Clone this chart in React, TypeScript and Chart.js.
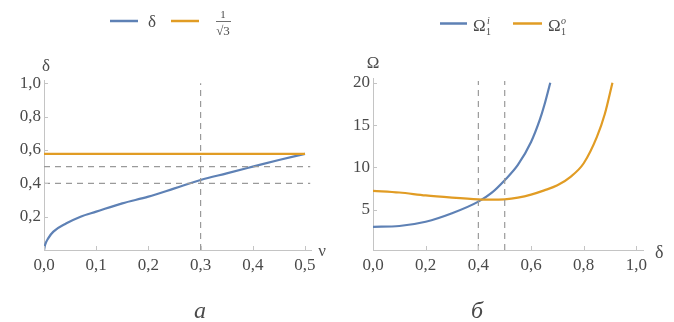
import React, { useEffect, useRef } from "react";
import { Chart, registerables } from "chart.js";
Chart.register(...registerables);

// ---------- Panel а: δ(ν) ----------
const nuValues = [0, 0.002, 0.008, 0.018, 0.043, 0.07, 0.1, 0.15, 0.2, 0.25, 0.3, 0.35, 0.4, 0.45, 0.5];
const deltaValues = [0, 0.03, 0.07, 0.11, 0.16, 0.2, 0.23, 0.28, 0.32, 0.37, 0.42, 0.46, 0.5, 0.54, 0.577];
const invSqrt3Nu = [0, 0.5];
const invSqrt3Values = [0.57735, 0.57735];
const leftDashH = [0.4, 0.5];
const leftDashV = [0.3];
const leftXTicks = [0, 0.1, 0.2, 0.3, 0.4, 0.5];
const leftXTickLabels = ["0,0", "0,1", "0,2", "0,3", "0,4", "0,5"];
const leftYTicks = [0.2, 0.4, 0.6, 0.8, 1.0];
const leftYTickLabels = ["0,2", "0,4", "0,6", "0,8", "1,0"];

// ---------- Panel б: Ω(δ) ----------
const deltaInner = [0, 0.1, 0.2, 0.3, 0.4, 0.45, 0.5, 0.55, 0.6, 0.633, 0.65, 0.673];
const omegaInner = [3.0, 3.1, 3.6, 4.6, 5.97, 7.0, 8.5, 10.3, 13.0, 15.6, 17.3, 20.0];
const deltaOuter = [0, 0.1, 0.2, 0.3, 0.4, 0.45, 0.5, 0.55, 0.6, 0.65, 0.7, 0.75, 0.8, 0.85, 0.88, 0.909];
const omegaOuter = [7.25, 7.05, 6.7, 6.45, 6.25, 6.2, 6.25, 6.45, 6.8, 7.3, 7.9, 8.9, 10.5, 13.6, 16.3, 20.0];
const rightDashV = [0.4, 0.5];
const rightXTicks = [0, 0.2, 0.4, 0.6, 0.8, 1.0];
const rightXTickLabels = ["0,0", "0,2", "0,4", "0,6", "0,8", "1,0"];
const rightYTicks = [5, 10, 15, 20];
const rightYTickLabels = ["5", "10", "15", "20"];

const BLUE = "#5e81b5";
const ORANGE = "#e19c24";
const DASH = "#9a9a9a";
const AXIS = "#c4c4c4";
const TEXT = "#4a4a4a";
const FONT = "Liberation Serif";

Chart.defaults.font.family = FONT;

function axis(min: number, max: number, ticks: number[], labels: string[], size: number, isX: boolean) {
  return {
    type: "linear",
    min,
    max,
    afterBuildTicks: (s: any) => {
      s.ticks = ticks.map((v) => ({ value: v }));
    },
    afterFit: (s: any) => {
      if (isX) s.height = size;
      else s.width = size;
    },
    ticks: {
      callback: (_v: any, i: number) => labels[i],
      color: TEXT,
      font: { family: FONT, size: 17 },
      padding: isX ? 5 : 3,
      maxRotation: 0,
      autoSkip: false,
    },
    grid: { display: true, drawOnChartArea: false, drawTicks: false },
    border: { display: true, color: AXIS, width: 1 },
  };
}

function pts(xs: number[], ys: number[]) {
  return xs.map((x, i) => ({ x, y: ys[i] }));
}

function curve(data: any[], color: string) {
  return {
    data,
    borderColor: color,
    borderWidth: 2.2,
    pointRadius: 0,
    cubicInterpolationMode: "monotone",
    fill: false,
  };
}

function dash(data: any[]) {
  return {
    data,
    borderColor: DASH,
    borderWidth: 1.2,
    borderDash: [6, 5],
    pointRadius: 0,
    tension: 0,
    fill: false,
  };
}

function line(ctx: CanvasRenderingContext2D, x1: number, y1: number, x2: number, y2: number, color: string, w: number) {
  ctx.beginPath();
  ctx.strokeStyle = color;
  ctx.lineWidth = w;
  ctx.moveTo(x1, y1);
  ctx.lineTo(x2, y2);
  ctx.stroke();
}

function text(ctx: CanvasRenderingContext2D, s: string, x: number, y: number, size: number, align: CanvasTextAlign, italic = false) {
  ctx.font = `${italic ? "italic " : ""}${size}px ${FONT}`;
  ctx.fillStyle = TEXT;
  ctx.textAlign = align;
  ctx.textBaseline = "alphabetic";
  ctx.fillText(s, x, y);
}

function innerTicks(ctx: CanvasRenderingContext2D, chart: any, xt: number[], yt: number[]) {
  const a = chart.chartArea;
  const xs = chart.scales.x;
  const ys = chart.scales.y;
  xt.forEach((v) => {
    const px = Math.round(xs.getPixelForValue(v)) + 0.5;
    line(ctx, px, a.bottom, px, a.bottom - 4, AXIS, 1);
  });
  yt.forEach((v) => {
    const py = Math.round(ys.getPixelForValue(v)) + 0.5;
    line(ctx, a.left, py, a.left + 4, py, AXIS, 1);
  });
}

function decor(id: string, draw: (ctx: CanvasRenderingContext2D, chart: any) => void) {
  return {
    id,
    afterDraw(chart: any) {
      const ctx = chart.ctx;
      ctx.save();
      draw(ctx, chart);
      ctx.restore();
    },
  };
}

function Panel({ config }: { config: any }) {
  const ref = useRef<HTMLCanvasElement>(null);
  useEffect(() => {
    const chart = new Chart(ref.current as HTMLCanvasElement, config);
    return () => chart.destroy();
  }, []);
  return <canvas ref={ref} width={337} height={322} style={{ display: "block", width: 337, height: 322 }} />;
}

const baseOptions = {
  responsive: false,
  animation: false,
  events: [],
  devicePixelRatio: 1,
  plugins: { legend: { display: false }, tooltip: { enabled: false } },
};

const leftConfig = {
  type: "line",
  data: {
    datasets: [
      ...leftDashH.map((y) => dash([{ x: 0, y }, { x: 0.51, y }])),
      ...leftDashV.map((x) => dash([{ x, y: 0 }, { x, y: 1.0 }])),
      curve(pts(invSqrt3Nu, invSqrt3Values), ORANGE),
      curve(pts(nuValues, deltaValues), BLUE),
    ],
  },
  options: {
    ...baseOptions,
    layout: { padding: { left: 0, top: 80, right: 26, bottom: 0 } },
    scales: {
      x: axis(0, 0.5115, leftXTicks, leftXTickLabels, 72, true),
      y: axis(0, 1.02, leftYTicks, leftYTickLabels, 44, false),
    },
  },
  plugins: [
    decor("decorLeft", (ctx, chart) => {
      const a = chart.chartArea;
      innerTicks(ctx, chart, leftXTicks, leftYTicks);
      // legend
      line(ctx, 110, 21, 138, 21, BLUE, 2.5);
      text(ctx, "δ", 152, 27, 17, "center");
      line(ctx, 171, 21, 199, 21, ORANGE, 2.5);
      text(ctx, "1", 223, 18, 11, "center");
      line(ctx, 216, 21.5, 231, 21.5, TEXT, 0.8);
      text(ctx, "√3", 223, 35, 13, "center");
      // axis titles
      text(ctx, "δ", a.left + 2, a.top - 9, 17, "center");
      text(ctx, "ν", a.right + 11, a.bottom + 6, 17, "center");
      // caption
      text(ctx, "а", 200, 318, 24, "center", true);
    }),
  ],
};

const rightConfig = {
  type: "line",
  data: {
    datasets: [
      ...rightDashV.map((x) => dash([{ x, y: 0.27 }, { x, y: 20.2 }])),
      curve(pts(deltaOuter, omegaOuter), ORANGE),
      curve(pts(deltaInner, omegaInner), BLUE),
    ],
  },
  options: {
    ...baseOptions,
    layout: { padding: { left: 0, top: 78, right: 31, bottom: 0 } },
    scales: {
      x: axis(0, 1.025, rightXTicks, rightXTickLabels, 72, true),
      y: axis(0.27, 20.55, rightYTicks, rightYTickLabels, 36, false),
    },
  },
  plugins: [
    decor("decorRight", (ctx, chart) => {
      const a = chart.chartArea;
      innerTicks(ctx, chart, rightXTicks, rightYTicks);
      // legend
      line(ctx, 103, 23.5, 130, 23.5, BLUE, 2.5);
      text(ctx, "Ω", 136, 31, 17, "left");
      text(ctx, "i", 150, 24, 10, "left", true);
      text(ctx, "1", 149, 35, 10, "left");
      line(ctx, 176, 23.5, 205, 23.5, ORANGE, 2.5);
      text(ctx, "Ω", 211, 31, 17, "left");
      text(ctx, "o", 224, 24, 10, "left", true);
      text(ctx, "1", 224, 35, 10, "left");
      // axis titles
      text(ctx, "Ω", a.left, a.top - 10, 17, "center");
      text(ctx, "δ", a.right + 12, a.bottom + 8, 18, "left");
      // caption
      text(ctx, "б", 140, 318, 24, "center", true);
    }),
  ],
};

export default function App() {
  return (
    <div style={{ position: "fixed", left: 0, top: 0, width: 674, height: 322, background: "#fff", overflow: "hidden" }}>
      <div style={{ position: "absolute", left: 0, top: 0, width: 337, height: 322 }}>
        <Panel config={leftConfig} />
      </div>
      <div style={{ position: "absolute", left: 337, top: 0, width: 337, height: 322 }}>
        <Panel config={rightConfig} />
      </div>
    </div>
  );
}
